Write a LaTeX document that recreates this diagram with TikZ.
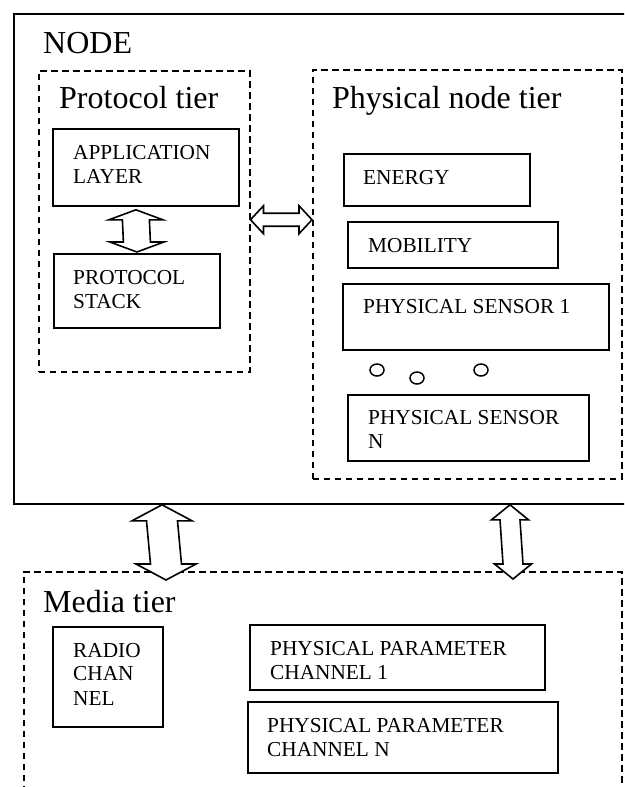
\documentclass[tikz,border=0pt]{standalone}
\usepackage{fontspec}
\setmainfont{Liberation Serif}
\usetikzlibrary{calc,shapes.geometric}
\tikzset{
  sbox/.style={draw, line width=1.8pt, rectangle, inner sep=0pt, anchor=north west},
  outerbox/.style={draw, line width=1.8pt, rectangle, inner sep=0pt, anchor=north west},
  tierbox/.style={draw, line width=1.5pt, dash pattern=on 6.5pt off 4.5pt, rectangle, inner sep=0pt, anchor=north west},
  big/.style={font=\fontsize{32}{36}\selectfont, inner sep=0pt, anchor=base west},
  small/.style={font=\fontsize{21.3}{24}\selectfont, inner sep=0pt, anchor=base west},
  dot/.style={draw, ellipse, line width=1.5pt, minimum width=14pt, minimum height=12pt, inner sep=0pt},
  blk/.style={draw, fill=white, line width=1.6pt, line join=miter}
}
% vertical hollow double arrow: start (top), end (bottom), head half width, shaft half width, head length
\newcommand\vdarrow[5]{%
  \draw[blk] (#1) -- ($(#1)+(-#3,#5)$) -- ($(#1)+(-#4,#5)$) -- ($(#2)+(-#4,-#5)$) -- ($(#2)+(-#3,-#5)$) -- (#2)
    -- ($(#2)+(#3,-#5)$) -- ($(#2)+(#4,-#5)$) -- ($(#1)+(#4,#5)$) -- ($(#1)+(#3,#5)$) -- cycle;}
% horizontal hollow double arrow: start (left), end (right), head half width, shaft half width, head length
\newcommand\hdarrow[5]{%
  \draw[blk] (#1) -- ($(#1)+(#5,-#3)$) -- ($(#1)+(#5,-#4)$) -- ($(#2)+(-#5,-#4)$) -- ($(#2)+(-#5,-#3)$) -- (#2)
    -- ($(#2)+(-#5,#3)$) -- ($(#2)+(-#5,#4)$) -- ($(#1)+(#5,#4)$) -- ($(#1)+(#5,#3)$) -- cycle;}
\begin{document}
\begin{tikzpicture}[x=1pt, y=-1pt]
\useasboundingbox (0,0) rectangle (624,787);
\clip (0,0) rectangle (624,787);

% outer NODE box
\node[outerbox, minimum width=615pt, minimum height=490pt] (outer) at (13,13) {};
\node[big] (nodeT) at (43,53) {NODE};

% Protocol tier
\node[tierbox, minimum width=211pt, minimum height=301pt] (ptier) at (38,70) {};
\node[big] (ptierT) at (59,108) {Protocol tier};
\node[sbox, minimum width=186pt, minimum height=77pt] (app) at (52,128) {};
\node[small] (appT1) at (73,159) {APPLICATION};
\node[small] (appT2) at (73,183) {LAYER};
\node[sbox, minimum width=166pt, minimum height=74pt] (ps) at (53,253) {};
\node[small] (psT1) at (73,284) {PROTOCOL};
\node[small] (psT2) at (73,308) {STACK};

% Physical node tier
\node[tierbox, minimum width=309pt, minimum height=409pt] (phy) at (312,69) {};
\node[big] (phyT) at (332,108) {Physical node tier};
\node[sbox, minimum width=186pt, minimum height=52pt] (energy) at (343,153) {};
\node[small] (energyT) at (363,184) {ENERGY};
\node[sbox, minimum width=210pt, minimum height=46pt] (mob) at (347,221) {};
\node[small] (mobT) at (368,252) {MOBILITY};
\node[sbox, minimum width=266pt, minimum height=66pt] (s1) at (342,283) {};
\node[small] (s1T) at (363,313) {PHYSICAL SENSOR 1};
\node[dot] (d1) at (377,370) {};
\node[dot] (d2) at (417,378) {};
\node[dot] (d3) at (481,370) {};
\node[sbox, minimum width=241pt, minimum height=66pt] (sN) at (347,394) {};
\node[small] (sNT1) at (368,424) {PHYSICAL SENSOR};
\node[small] (sNT2) at (368,448) {N};

% Media tier
\node[tierbox, minimum width=598pt, minimum height=240pt] (media) at (23,571) {};
\node[big] (mediaT) at (43,612) {Media tier};
\node[sbox, minimum width=110pt, minimum height=100pt] (radio) at (52,626) {};
\node[small] (radioT1) at (73,657) {RADIO};
\node[small] (radioT2) at (73,680) {CHAN};
\node[small] (radioT3) at (73,705) {NEL};
\node[sbox, minimum width=295pt, minimum height=65pt] (pp1) at (249,624) {};
\node[small] (pp1T1) at (270,655) {PHYSICAL PARAMETER};
\node[small] (pp1T2) at (270,679) {CHANNEL 1};
\node[sbox, minimum width=310pt, minimum height=71pt] (ppN) at (247,701) {};
\node[small] (ppNT1) at (267,732) {PHYSICAL PARAMETER};
\node[small] (ppNT2) at (267,756) {CHANNEL N};

% connectors (hollow double arrows)
\coordinate (a1s) at ($(app.south)+(-10,3)$);
\coordinate (a1e) at ($(ps.north)+(0,-1)$);
\vdarrow{a1s}{a1e}{27}{13.5}{10}

\coordinate (h1s) at ($(ptier.east)+(0,-1.5)$);
\coordinate (h1e) at ($(ptier.east -| phy.west)+(0,-1.5)$);
\hdarrow{h1s}{h1e}{14}{6.5}{13}

\coordinate (b1s) at ($(outer.south west)+(149,0)$);
\coordinate (b1e) at ($(media.north west)+(143,9)$);
\vdarrow{b1s}{b1e}{30}{15.5}{16}

\coordinate (b2s) at ($(outer.south west)+(497,0)$);
\coordinate (b2e) at ($(media.north west)+(490,8)$);
\vdarrow{b2s}{b2e}{18.5}{10}{15}
\end{tikzpicture}
\end{document}
